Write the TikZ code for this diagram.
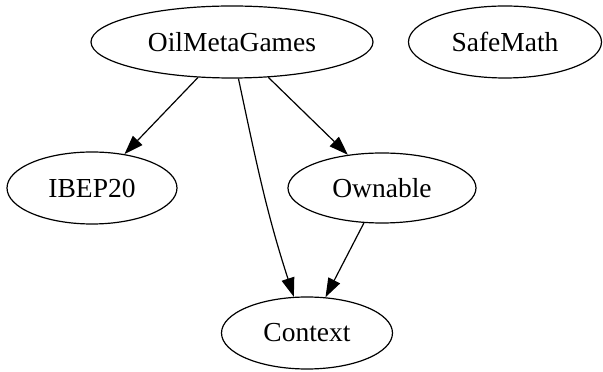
\documentclass[tikz,border=0pt]{standalone}
\usepackage{fontspec}
\setmainfont{Liberation Serif}
\usetikzlibrary{shapes.geometric,arrows.meta}
\begin{document}
\begin{tikzpicture}[
    x=1pt, y=1pt,
    contract/.style={draw, ellipse, line width=1.2pt, inner sep=0pt, minimum height=72pt, font=\fontsize{27.5}{30}\selectfont},
    arrow/.style={-{Triangle[length=19pt, width=13pt]}, line width=1.2pt}
]
    \useasboundingbox (0,0) rectangle (603,372);

    % Rang 1: contractul principal si biblioteca
    \node[contract, minimum width=282pt] (omg) at (232,330) {OilMetaGames};
    \node[contract, minimum width=193pt] (safe) at (505,330) {SafeMath};

    % Rang 2: interfata si proprietar
    \node[contract, minimum width=170pt] (ibep) at (92,184) {IBEP20};
    \node[contract, minimum width=188pt, minimum height=70pt] (own) at (382,184) {Ownable};

    % Rang 3: context
    \node[contract, minimum width=171pt] (ctx) at (307,39) {Context};

    % Mosteniri
    \draw[arrow] (omg) -- (ibep);
    \draw[arrow] (omg) -- (own);
    \draw[arrow] (omg.-80) to[out=-78, in=108] (ctx.110);
    \draw[arrow] (own) -- (ctx);
\end{tikzpicture}
\end{document}
